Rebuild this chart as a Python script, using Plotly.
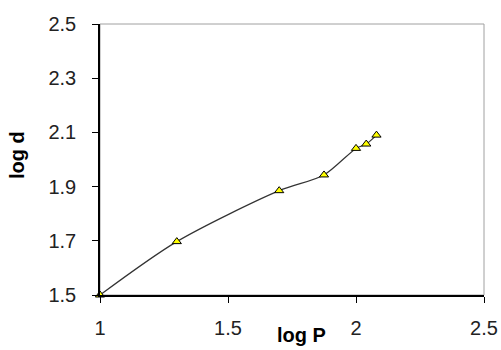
import plotly.graph_objects as go

log_p = [1.0, 1.30, 1.70, 1.875, 2.0, 2.04, 2.08]
log_d = [1.5, 1.697, 1.885, 1.943, 2.041, 2.057, 2.09]
x_ticks = [1, 1.5, 2, 2.5]
x_tick_labels = ["1", "1.5", "2", "2.5"]
y_ticks = [1.5, 1.7, 1.9, 2.1, 2.3, 2.5]
y_tick_labels = ["1.5", "1.7", "1.9", "2.1", "2.3", "2.5"]

FAM = "Liberation Sans, Arial, sans-serif"

fig = go.Figure()
fig.add_trace(go.Scatter(
    x=log_p, y=log_d, mode="lines+markers",
    line=dict(color="#333333", width=1.2, shape="spline", smoothing=0.8),
    marker=dict(symbol="triangle-up", size=8, color="#ffff00",
                line=dict(color="#000000", width=1)),
    cliponaxis=False, showlegend=False,
))

fig.add_shape(type="rect", xref="paper", yref="paper", x0=0, y0=0, x1=1, y1=1,
              line=dict(color="#a0a0a0", width=1), layer="below")

tick_font = dict(family=FAM, size=20, color="#222222")
title_font = dict(family=FAM, size=20, color="#000000")
fig.update_layout(
    width=501, height=350,
    margin=dict(l=100, r=17, t=24, b=55),
    paper_bgcolor="white", plot_bgcolor="white",
    font=tick_font,
    xaxis=dict(range=[1, 2.5], tickvals=x_ticks, ticktext=x_tick_labels,
               showgrid=False, zeroline=False, showline=True, linecolor="#000000",
               linewidth=1.5, ticks="outside", ticklen=6, tickcolor="#000000",
               tickfont=tick_font, ticklabelstandoff=8, automargin=False),
    yaxis=dict(range=[1.5, 2.5], tickvals=y_ticks, ticktext=y_tick_labels,
               showgrid=False, zeroline=False, showline=True, linecolor="#000000",
               linewidth=1.5, ticks="outside", ticklen=6, tickcolor="#000000",
               tickfont=tick_font, ticklabelstandoff=12, automargin=False),
    annotations=[
        dict(text="<b>log P</b>", xref="paper", yref="paper",
             x=(301 - 100) / 384, y=-(335 - 295) / 271,
             xanchor="center", yanchor="middle", showarrow=False, font=title_font),
        dict(text="<b>log d</b>", xref="paper", yref="paper",
             x=-(100 - 17) / 384, y=(295 - 155) / 271, textangle=-90,
             xanchor="center", yanchor="middle", showarrow=False, font=title_font),
    ],
)
fig.write_html("out.html", config={"displayModeBar": False},
               post_script="document.body.style.margin='0';document.body.style.overflow='hidden';")
